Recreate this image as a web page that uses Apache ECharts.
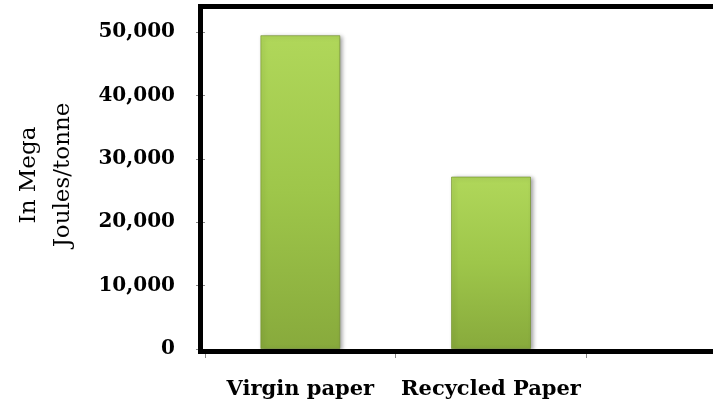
<!DOCTYPE html>
<html>
<head>
<meta charset="utf-8">
<script src="https://cdn.jsdelivr.net/npm/echarts@6/dist/echarts.min.js"></script>
<style>
html,body{margin:0;padding:0;background:#fff;overflow:hidden;width:713px;height:407px;}
#c{width:777px;height:407px;}
</style>
</head>
<body>
<div id="c"></div>
<script>
const categories = ['Virgin paper', 'Recycled Paper', ''];
const energyValues = [49500, 27200, null];
const yTickLabels = ['0', '10,000', '20,000', '30,000', '40,000', '50,000'];
const yAxisTitle = 'In Mega\nJoules/tonne';

const chart = echarts.init(document.getElementById('c'), null, {renderer: 'canvas'});
const barGradient = new echarts.graphic.LinearGradient(0, 0, 0, 1, [
  {offset: 0, color: '#b0d75a'},
  {offset: 0.5, color: '#9ec64a'},
  {offset: 1, color: '#88aa3c'}
]);
chart.setOption({
  animation: false,
  backgroundColor: '#fff',
  grid: {left: 205, right: 0, top: 32, bottom: 58, containLabel: false},
  xAxis: {
    type: 'category',
    data: categories,
    axisLine: {show: false},
    axisTick: {show: true, length: 9, interval: 0, lineStyle: {color: '#888', width: 1}},
    axisLabel: {
      interval: 0,
      margin: 30,
      color: '#000',
      fontFamily: 'DejaVu Serif',
      fontWeight: 'bold',
      fontSize: 21
    }
  },
  yAxis: {
    type: 'value',
    min: 0,
    max: 50000,
    interval: 10000,
    splitLine: {show: false},
    axisLine: {show: false},
    axisTick: {show: true, length: 9, lineStyle: {color: '#888', width: 1}},
    axisLabel: {
      margin: 30,
      color: '#000',
      fontFamily: 'DejaVu Serif',
      fontWeight: 'bold',
      fontSize: 20,
      formatter: function (v) { return yTickLabels[Math.round(v / 10000)]; }
    }
  },
  series: [{
    type: 'bar',
    data: energyValues,
    barWidth: 80,
    itemStyle: {
      color: barGradient,
      borderColor: 'rgba(110,140,40,0.6)',
      borderWidth: 1,
      shadowColor: 'rgba(0,0,0,0.35)',
      shadowBlur: 4,
      shadowOffsetX: 2,
      shadowOffsetY: 1
    }
  }],
  graphic: [
    {
      type: 'rect',
      z: 100,
      silent: true,
      shape: {x: 200.5, y: 6.5, width: 600, height: 345},
      style: {fill: 'none', stroke: '#000', lineWidth: 5}
    },
    {
      type: 'text',
      z: 100,
      x: 46,
      y: 175,
      rotation: Math.PI / 2,
      style: {
        text: yAxisTitle,
        font: '23px "DejaVu Serif"',
        fill: '#000',
        align: 'center',
        verticalAlign: 'middle',
        lineHeight: 34
      }
    }
  ]
});
</script>
</body>
</html>
